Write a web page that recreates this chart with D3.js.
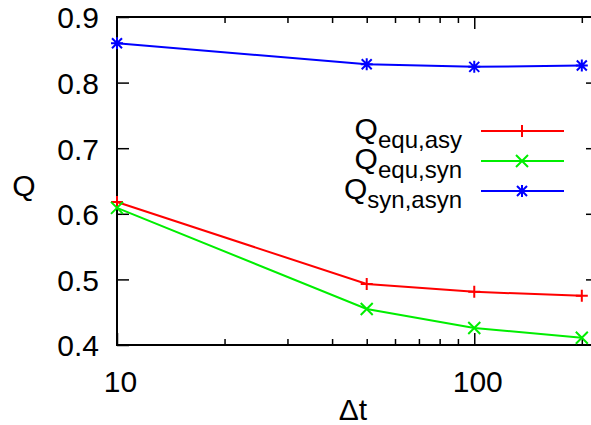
<!DOCTYPE html>
<html>
<head>
<meta charset="utf-8">
<script src="https://cdnjs.cloudflare.com/ajax/libs/d3/7.8.5/d3.min.js"></script>
<style>
  body { margin: 0; background: #fff; }
  text { font-family: "Liberation Sans", Arial, sans-serif; fill: #000; }
</style>
</head>
<body>
<div id="chart"></div>
<script>
// data
var dt = [10, 50, 100, 200];
var qEquAsy = [0.618, 0.493, 0.481, 0.475];
var qEquSyn = [0.609, 0.455, 0.426, 0.411];
var qSynAsyn = [0.860, 0.828, 0.824, 0.826];

var yTicks = [0.4, 0.5, 0.6, 0.7, 0.8, 0.9];
var xMajor = [10, 100];
var xMinor = [20, 30, 40, 50, 60, 70, 80, 90, 200];

var series = [
    {name: "equ,asy", values: qEquAsy, color: "#ff0000", marker: "plus"},
    {name: "equ,syn", values: qEquSyn, color: "#00ee00", marker: "cross"},
    {name: "syn,asyn", values: qSynAsyn, color: "#0000ff", marker: "star"}
];

var W = 591, H = 425;
var margin = {top: 17, right: -7, bottom: 80, left: 117};
var width = W - margin.left - margin.right;
var height = H - margin.top - margin.bottom;

var x = d3.scaleLog().domain([10, 222]).range([0, width]);
var y = d3.scaleLinear().domain([0.4, 0.9]).range([height, 0]);

var markers = {
    plus: "M-6,0H6M0,-6V6",
    cross: "M-6,-6L6,6M6,-6L-6,6",
    star: "M-6,0H6M0,-6V6M-5,-5L5,5M5,-5L-5,5"
};

var svg = d3.select("#chart").append("svg")
    .attr("width", W)
    .attr("height", H);

var g = svg.append("g")
    .attr("transform", "translate(" + margin.left + "," + margin.top + ")");

// axes, ticks point inward and are mirrored
var axisStyle = function(sel){
    sel.select(".domain").remove();
    sel.selectAll("line").attr("stroke", "#000").attr("stroke-width", 1.5);
};

g.append("g").call(d3.axisLeft(y).tickValues(yTicks).tickSize(-12).tickFormat(d3.format(".1f")).tickPadding(18))
    .call(axisStyle)
    .selectAll("text").style("font-size", "30px").attr("dy", "0.36em");

g.append("g").attr("transform", "translate(" + width + ",0)")
    .call(d3.axisRight(y).tickValues(yTicks.slice(1, -1)).tickSize(-12).tickFormat(""))
    .call(axisStyle);

g.append("g").attr("transform", "translate(0," + height + ")")
    .call(d3.axisBottom(x).tickValues(xMajor).tickSize(-12).tickFormat(d3.format("d")).tickPadding(26))
    .call(axisStyle)
    .selectAll("text").style("font-size", "30px").attr("dy", "0.71em").attr("dx", 3);

g.append("g").attr("transform", "translate(0," + height + ")")
    .call(d3.axisBottom(x).tickValues(xMinor).tickSize(-6).tickFormat(""))
    .call(axisStyle);

g.append("g")
    .call(d3.axisTop(x).tickValues(xMajor.slice(1)).tickSize(-12).tickFormat(""))
    .call(axisStyle);

g.append("g")
    .call(d3.axisTop(x).tickValues(xMinor).tickSize(-6).tickFormat(""))
    .call(axisStyle);

// frame
g.append("rect")
    .attr("width", width).attr("height", height)
    .attr("fill", "none").attr("stroke", "#000").attr("stroke-width", 2);

// lines and points
var line = d3.line()
    .x(function(d, i){ return x(dt[i]); })
    .y(function(d){ return y(d); });

series.forEach(function(s){
    g.append("path")
        .datum(s.values)
        .attr("d", line)
        .attr("fill", "none")
        .attr("stroke", s.color)
        .attr("stroke-width", 2);

    g.selectAll(null)
        .data(s.values)
        .enter().append("path")
        .attr("transform", function(d, i){ return "translate(" + x(dt[i]) + "," + y(d) + ")"; })
        .attr("d", markers[s.marker])
        .attr("fill", "none")
        .attr("stroke", s.color)
        .attr("stroke-width", 2);
});

// legend
var legend = svg.append("g");
series.forEach(function(s, i){
    var ly = 131 + i * 30;
    var t = legend.append("text")
        .attr("x", 462).attr("y", ly + 8)
        .attr("text-anchor", "end")
        .style("font-size", "30px");
    t.append("tspan").text("Q");
    t.append("tspan").attr("dy", 9).style("font-size", "24px").text(s.name);

    legend.append("line")
        .attr("x1", 481).attr("x2", 564)
        .attr("y1", ly).attr("y2", ly)
        .attr("stroke", s.color).attr("stroke-width", 2);
    legend.append("path")
        .attr("transform", "translate(522," + ly + ")")
        .attr("d", markers[s.marker])
        .attr("fill", "none").attr("stroke", s.color).attr("stroke-width", 2);
});

// axis titles
svg.append("text")
    .attr("x", 353).attr("y", 420)
    .attr("text-anchor", "middle")
    .style("font-size", "30px")
    .text("Δt");

svg.append("text")
    .attr("x", 24).attr("y", 196)
    .attr("text-anchor", "middle")
    .style("font-size", "30px")
    .text("Q");
</script>
</body>
</html>
